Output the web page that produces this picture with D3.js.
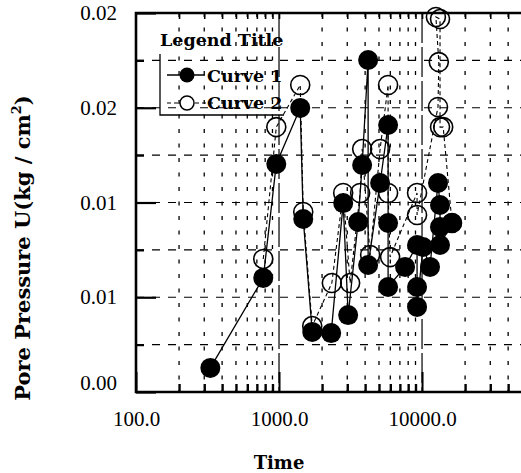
<!DOCTYPE html>
<html>
  <head>
    <meta charset="utf-8">
    <script src="https://d3js.org/d3.v7.min.js"></script>
    <style>
      body { margin: 0; background: #fff; }
      svg { display: block; }
    </style>
  </head>
<body>
  <script type="text/javascript">

  // data
  var c1Time = [331, 776, 957, 1407, 1477, 1707, 2316, 2810, 3044, 3575, 3813, 4198, 4198, 5092, 5790, 5790, 5790, 7608, 9230, 9230, 9230, 10160, 11370, 12930, 13360, 13360, 13360, 16200];
  var c1Val  = [0.00127, 0.00602, 0.01203, 0.01499, 0.00913, 0.00317, 0.00311, 0.00997, 0.00406, 0.00897, 0.01198, 0.01752, 0.00670, 0.01103, 0.01409, 0.00892, 0.00554, 0.00660, 0.00776, 0.00554, 0.00449, 0.00765, 0.00660, 0.01103, 0.00987, 0.00871, 0.00776, 0.00892];

  var c2Time = [776, 957, 1407, 1477, 1707, 2340, 2810, 3143, 3692, 3813, 4335, 5092, 5790, 5790, 5980, 9230, 9230, 12930, 13100, 12500, 13360, 13360, 14060, 16200];
  var c2Val  = [0.00702, 0.01398, 0.01620, 0.00950, 0.00348, 0.00575, 0.01050, 0.00575, 0.01050, 0.01282, 0.00723, 0.01282, 0.01620, 0.01050, 0.00712, 0.01050, 0.00934, 0.01504, 0.01741, 0.01979, 0.01968, 0.01398, 0.01398, 0.00892];

  var xTicks = [100, 1000, 10000];
  var yTicks = [0, 0.005, 0.01, 0.015, 0.02];
  var yLabels = ["0.00", "0.01", "0.01", "0.02", "0.02"];
  var yMinor = [0.0025, 0.0075, 0.0125, 0.0175];

  var curve1 = c1Time.map(function(t, i){ return {t: t, v: c1Val[i]}; });
  var curve2 = c2Time.map(function(t, i){ return {t: t, v: c2Val[i]}; });

  // minor log ticks between decades
  var xMinor = [];
  [100, 1000, 10000].forEach(function(dec){
    for (var k = 2; k <= 9; k++) {
      if (dec * k < 50000) xMinor.push(dec * k);
    }
  });

  var W = 521, H = 473;
  var serif = "'DejaVu Serif', serif";

  var svg = d3.select("body").append("svg")
      .attr("width", W)
      .attr("height", H);

  var x = d3.scaleLog().domain([100, 50000]).range([136, 522]);
  var y = d3.scaleLinear().domain([0, 0.02]).range([392, 13]);

  // grid
  var grid = svg.append("g").attr("stroke", "#000").attr("fill", "none");

  grid.selectAll(".vminor").data(xMinor).enter().append("line")
      .attr("x1", function(d){ return x(d); })
      .attr("x2", function(d){ return x(d); })
      .attr("y1", 13).attr("y2", 392)
      .attr("stroke-width", 1.3)
      .attr("stroke-dasharray", "4,10.5");

  grid.selectAll(".vmajor").data([1000, 10000]).enter().append("line")
      .attr("x1", function(d){ return x(d); })
      .attr("x2", function(d){ return x(d); })
      .attr("y1", 13).attr("y2", 392)
      .attr("stroke-width", 1.2)
      .attr("stroke-dasharray", "30,4");

  grid.selectAll(".hgrid").data(yMinor.concat([0.005, 0.01, 0.015])).enter().append("line")
      .attr("x1", 136).attr("x2", 522)
      .attr("y1", function(d){ return y(d); })
      .attr("y2", function(d){ return y(d); })
      .attr("stroke-width", 1.2)
      .attr("stroke-dasharray", "8,8");

  // axes
  var yAxis = d3.axisLeft(y)
      .tickValues(yTicks)
      .tickFormat(function(d, i){ return yLabels[i]; })
      .tickSizeInner(-20).tickSizeOuter(0).tickPadding(19);

  var gy = svg.append("g").attr("transform", "translate(136,0)").call(yAxis);
  gy.select(".domain").remove();
  gy.selectAll("line").attr("stroke-width", 2.2);
  gy.selectAll("text")
      .attr("font-family", "'Liberation Serif', serif")
      .attr("font-size", 21)
      .attr("fill", "#000")
      .attr("dy", function(d){ return d === 0 ? "-0.1em" : "0.32em"; });

  var yAxisMinor = d3.axisLeft(y).tickValues(yMinor).tickFormat("")
      .tickSizeInner(-8).tickSizeOuter(0);
  var gym = svg.append("g").attr("transform", "translate(136,0)").call(yAxisMinor);
  gym.select(".domain").remove();
  gym.selectAll("line").attr("stroke-width", 2.2);

  var xAxis = d3.axisBottom(x)
      .tickValues(xTicks)
      .tickFormat(d3.format(".1f"))
      .tickSizeInner(-20).tickSizeOuter(0).tickPadding(19);

  var gx = svg.append("g").attr("transform", "translate(0,392)").call(xAxis);
  gx.select(".domain").remove();
  gx.selectAll("line").attr("stroke-width", 2);
  gx.selectAll("text")
      .attr("font-family", "'Liberation Serif', serif")
      .attr("font-size", 21)
      .attr("fill", "#000");

  var xAxisMinor = d3.axisBottom(x).tickValues(xMinor).tickFormat("")
      .tickSizeInner(-8).tickSizeOuter(0);
  var gxm = svg.append("g").attr("transform", "translate(0,392)").call(xAxisMinor);
  gxm.select(".domain").remove();
  gxm.selectAll("line").attr("stroke-width", 2.4);

  var xAxisTop = d3.axisTop(x).tickValues(xMinor.concat([1000, 10000])).tickFormat("")
      .tickSizeInner(-6).tickSizeOuter(0);
  var gxt = svg.append("g").attr("transform", "translate(0,13)").call(xAxisTop);
  gxt.select(".domain").remove();
  gxt.selectAll("line").attr("stroke-width", 1.6);

  // frame
  svg.append("path")
      .attr("d", "M522,13H136V392H522")
      .attr("fill", "none")
      .attr("stroke", "#000")
      .attr("stroke-width", 2.6);

  // curve 2 (open circles, dashed)
  var line = d3.line()
      .x(function(d){ return x(d.t); })
      .y(function(d){ return y(d.v); });

  svg.append("path")
      .datum(curve2)
      .attr("d", line)
      .attr("fill", "none")
      .attr("stroke", "#000")
      .attr("stroke-width", 1.1)
      .attr("stroke-dasharray", "4,3");

  svg.selectAll(".c2").data(curve2).enter().append("circle")
      .attr("cx", function(d){ return x(d.t); })
      .attr("cy", function(d){ return y(d.v); })
      .attr("r", 9.5)
      .attr("fill", "none")
      .attr("stroke", "#000")
      .attr("stroke-width", 1.6);

  // curve 1 (filled circles, solid)
  svg.append("path")
      .datum(curve1)
      .attr("d", line)
      .attr("fill", "none")
      .attr("stroke", "#000")
      .attr("stroke-width", 1.3);

  svg.selectAll(".c1").data(curve1).enter().append("circle")
      .attr("cx", function(d){ return x(d.t); })
      .attr("cy", function(d){ return y(d.v); })
      .attr("r", 10)
      .attr("fill", "#000");

  // legend
  var lg = svg.append("g");
  lg.append("path")
      .attr("d", "M160,54V115H284")
      .attr("fill", "none")
      .attr("stroke", "#000")
      .attr("stroke-width", 1.3);

  lg.append("text")
      .attr("x", 160).attr("y", 46)
      .attr("font-family", serif)
      .attr("font-weight", "bold")
      .attr("font-size", 17.5)
      .text("Legend Title");

  lg.append("line")
      .attr("x1", 167).attr("x2", 205).attr("y1", 75).attr("y2", 75)
      .attr("stroke", "#000").attr("stroke-width", 1.3);
  lg.append("circle").attr("cx", 187).attr("cy", 75).attr("r", 7.5).attr("fill", "#000");
  lg.append("text")
      .attr("x", 207).attr("y", 82)
      .attr("font-family", serif)
      .attr("font-weight", "bold")
      .attr("font-size", 17.5)
      .text("Curve 1");

  lg.append("line")
      .attr("x1", 167).attr("x2", 215).attr("y1", 103).attr("y2", 103)
      .attr("stroke", "#000").attr("stroke-width", 1.1)
      .attr("stroke-dasharray", "4,3");
  lg.append("circle").attr("cx", 187).attr("cy", 103).attr("r", 7)
      .attr("fill", "#fff").attr("stroke", "#000").attr("stroke-width", 1.5);
  lg.append("text")
      .attr("x", 207).attr("y", 109)
      .attr("font-family", serif)
      .attr("font-weight", "bold")
      .attr("font-size", 17.5)
      .text("Curve 2");

  // axis titles
  svg.append("text")
      .attr("x", 279).attr("y", 469)
      .attr("text-anchor", "middle")
      .attr("font-family", serif)
      .attr("font-weight", "bold")
      .attr("font-size", 18)
      .text("Time");

  var yt = svg.append("text")
      .attr("transform", "translate(30,248) rotate(-90)")
      .attr("text-anchor", "middle")
      .attr("font-family", serif)
      .attr("font-weight", "bold")
      .attr("font-size", 21);
  yt.append("tspan").text("Pore Pressure U(kg / cm");
  yt.append("tspan").attr("font-size", 13).attr("dy", "-0.7em").text("2");
  yt.append("tspan").attr("dy", "0.45em").text(")");

  </script>
</body>
</html>
